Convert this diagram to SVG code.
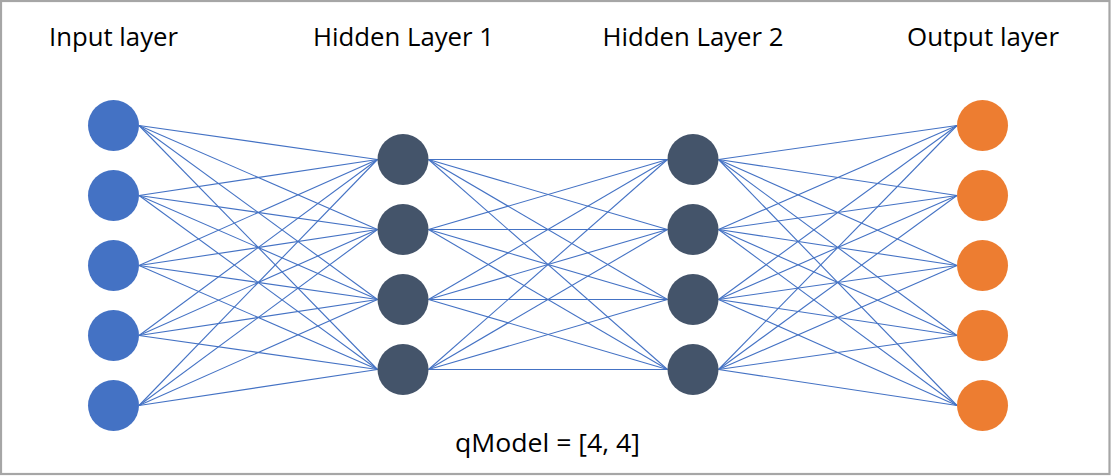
<svg xmlns="http://www.w3.org/2000/svg" width="1111" height="476" viewBox="0 0 1111 476">
<style>
.lbl{font-family:"Open Sans","Liberation Sans",sans-serif;font-size:26px;fill:#000;text-anchor:middle}
.in{fill:#4472C4}
.hid{fill:#44546A}
.out{fill:#ED7D31}
.c line{stroke:#4472C4;stroke-width:1.1}
</style>
<rect x="0" y="0" width="1111" height="476" fill="#fff"/>
<rect x="1" y="1" width="1108.5" height="473" fill="none" stroke="#A6A6A6" stroke-width="2.2"/>
<g id="labels">
<text class="lbl" x="113.5" y="45.5" textLength="129" lengthAdjust="spacingAndGlyphs">Input layer</text>
<text class="lbl" x="403.5" y="45.5" textLength="181" lengthAdjust="spacingAndGlyphs">Hidden Layer 1</text>
<text class="lbl" x="693" y="45.5" textLength="181" lengthAdjust="spacingAndGlyphs">Hidden Layer 2</text>
<text class="lbl" x="983" y="45.5" textLength="152" lengthAdjust="spacingAndGlyphs">Output layer</text>
<text class="lbl" x="547.5" y="451.5" textLength="185" lengthAdjust="spacingAndGlyphs">qModel = [4, 4]</text>
</g>
<g id="connectors" class="c">
<line x1="139" y1="125.5" x2="377.5" y2="159.5"/><line x1="139" y1="125.5" x2="377.5" y2="229.5"/><line x1="139" y1="125.5" x2="377.5" y2="299.5"/><line x1="139" y1="125.5" x2="377.5" y2="369.5"/>
<line x1="139" y1="195.5" x2="377.5" y2="159.5"/><line x1="139" y1="195.5" x2="377.5" y2="229.5"/><line x1="139" y1="195.5" x2="377.5" y2="299.5"/><line x1="139" y1="195.5" x2="377.5" y2="369.5"/>
<line x1="139" y1="265.5" x2="377.5" y2="159.5"/><line x1="139" y1="265.5" x2="377.5" y2="229.5"/><line x1="139" y1="265.5" x2="377.5" y2="299.5"/><line x1="139" y1="265.5" x2="377.5" y2="369.5"/>
<line x1="139" y1="335.5" x2="377.5" y2="159.5"/><line x1="139" y1="335.5" x2="377.5" y2="229.5"/><line x1="139" y1="335.5" x2="377.5" y2="299.5"/><line x1="139" y1="335.5" x2="377.5" y2="369.5"/>
<line x1="139" y1="405.5" x2="377.5" y2="159.5"/><line x1="139" y1="405.5" x2="377.5" y2="229.5"/><line x1="139" y1="405.5" x2="377.5" y2="299.5"/><line x1="139" y1="405.5" x2="377.5" y2="369.5"/>
<line x1="428.5" y1="159.5" x2="667.5" y2="159.5"/><line x1="428.5" y1="159.5" x2="667.5" y2="229.5"/><line x1="428.5" y1="159.5" x2="667.5" y2="299.5"/><line x1="428.5" y1="159.5" x2="667.5" y2="369.5"/>
<line x1="428.5" y1="229.5" x2="667.5" y2="159.5"/><line x1="428.5" y1="229.5" x2="667.5" y2="229.5"/><line x1="428.5" y1="229.5" x2="667.5" y2="299.5"/><line x1="428.5" y1="229.5" x2="667.5" y2="369.5"/>
<line x1="428.5" y1="299.5" x2="667.5" y2="159.5"/><line x1="428.5" y1="299.5" x2="667.5" y2="229.5"/><line x1="428.5" y1="299.5" x2="667.5" y2="299.5"/><line x1="428.5" y1="299.5" x2="667.5" y2="369.5"/>
<line x1="428.5" y1="369.5" x2="667.5" y2="159.5"/><line x1="428.5" y1="369.5" x2="667.5" y2="229.5"/><line x1="428.5" y1="369.5" x2="667.5" y2="299.5"/><line x1="428.5" y1="369.5" x2="667.5" y2="369.5"/>
<line x1="718.5" y1="159.5" x2="957" y2="125.5"/><line x1="718.5" y1="159.5" x2="957" y2="195.5"/><line x1="718.5" y1="159.5" x2="957" y2="265.5"/><line x1="718.5" y1="159.5" x2="957" y2="335.5"/><line x1="718.5" y1="159.5" x2="957" y2="405.5"/>
<line x1="718.5" y1="229.5" x2="957" y2="125.5"/><line x1="718.5" y1="229.5" x2="957" y2="195.5"/><line x1="718.5" y1="229.5" x2="957" y2="265.5"/><line x1="718.5" y1="229.5" x2="957" y2="335.5"/><line x1="718.5" y1="229.5" x2="957" y2="405.5"/>
<line x1="718.5" y1="299.5" x2="957" y2="125.5"/><line x1="718.5" y1="299.5" x2="957" y2="195.5"/><line x1="718.5" y1="299.5" x2="957" y2="265.5"/><line x1="718.5" y1="299.5" x2="957" y2="335.5"/><line x1="718.5" y1="299.5" x2="957" y2="405.5"/>
<line x1="718.5" y1="369.5" x2="957" y2="125.5"/><line x1="718.5" y1="369.5" x2="957" y2="195.5"/><line x1="718.5" y1="369.5" x2="957" y2="265.5"/><line x1="718.5" y1="369.5" x2="957" y2="335.5"/><line x1="718.5" y1="369.5" x2="957" y2="405.5"/>
</g>
<g id="input-1"><circle class="in" cx="113.5" cy="125.5" r="25.5"/></g>
<g id="input-2"><circle class="in" cx="113.5" cy="195.5" r="25.5"/></g>
<g id="input-3"><circle class="in" cx="113.5" cy="265.5" r="25.5"/></g>
<g id="input-4"><circle class="in" cx="113.5" cy="335.5" r="25.5"/></g>
<g id="input-5"><circle class="in" cx="113.5" cy="405.5" r="25.5"/></g>
<g id="hidden1-1"><circle class="hid" cx="403" cy="159.5" r="25.5"/></g>
<g id="hidden1-2"><circle class="hid" cx="403" cy="229.5" r="25.5"/></g>
<g id="hidden1-3"><circle class="hid" cx="403" cy="299.5" r="25.5"/></g>
<g id="hidden1-4"><circle class="hid" cx="403" cy="369.5" r="25.5"/></g>
<g id="hidden2-1"><circle class="hid" cx="693" cy="159.5" r="25.5"/></g>
<g id="hidden2-2"><circle class="hid" cx="693" cy="229.5" r="25.5"/></g>
<g id="hidden2-3"><circle class="hid" cx="693" cy="299.5" r="25.5"/></g>
<g id="hidden2-4"><circle class="hid" cx="693" cy="369.5" r="25.5"/></g>
<g id="output-1"><circle class="out" cx="982.5" cy="125.5" r="25.5"/></g>
<g id="output-2"><circle class="out" cx="982.5" cy="195.5" r="25.5"/></g>
<g id="output-3"><circle class="out" cx="982.5" cy="265.5" r="25.5"/></g>
<g id="output-4"><circle class="out" cx="982.5" cy="335.5" r="25.5"/></g>
<g id="output-5"><circle class="out" cx="982.5" cy="405.5" r="25.5"/></g>
</svg>
